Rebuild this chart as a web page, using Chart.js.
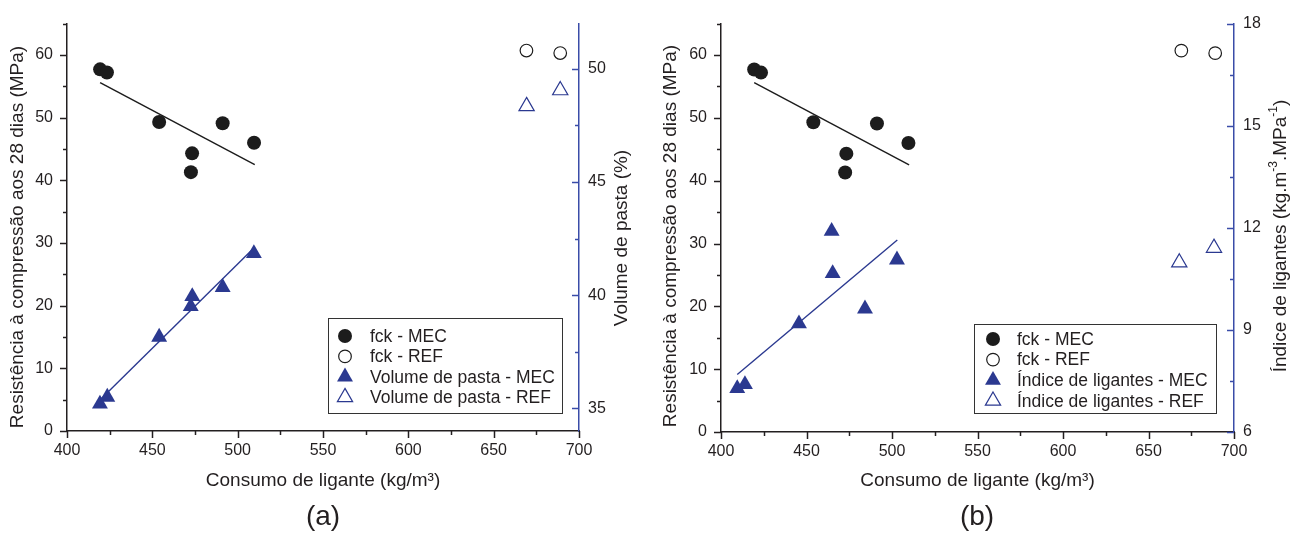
<!DOCTYPE html>
<html>
<head>
<meta charset="utf-8">
<title>Consumo de ligante</title>
<script src="https://cdn.jsdelivr.net/npm/chart.js@4.4.0/dist/chart.umd.min.js"></script>
<style>
  html, body { margin: 0; padding: 0; background: #fff; }
  #wrap { position: relative; width: 1290px; height: 536px; overflow: hidden; }
  canvas { position: absolute; top: 0; }
  #chartA { left: 0; }
  #chartB { left: 645px; }
</style>
</head>
<body>
<div id="wrap">
  <canvas id="chartA" width="645" height="536"></canvas>
  <canvas id="chartB" width="645" height="536"></canvas>
</div>
<script>
// fck (MPa) against binder content, same points in both panels
const fckMecX = [419.4, 423.4, 454, 473.3, 472.6, 491.2, 509.6];
const fckMecY = [57.7, 57.2, 49.3, 44.3, 41.3, 49.1, 46.0];
const fckRefX = [669.2, 689];
const fckRefY = [60.7, 60.3];
const fckTrendX = [419.4, 510];
const fckTrendY = [55.6, 42.5];

// (a) paste volume (%)
const volMecX = [419.3, 423.6, 454, 472.5, 473.4, 491.2, 509.5];
const volMecY = [35.2, 35.5, 38.15, 39.5, 39.95, 40.35, 41.85];
const volRefX = [669.3, 689];
const volRefY = [48.35, 49.05];
const volTrendX = [419.3, 509.5];
const volTrendY = [35.37, 42.09];

// (b) binder index (kg.m-3.MPa-1)
const indMecX = [409.5, 414, 445.6, 464.7, 465.3, 484.2, 502.9];
const indMecY = [7.28, 7.4, 9.18, 11.9, 10.66, 9.62, 11.06];
const indRefX = [668, 688.3];
const indRefY = [10.98, 11.41];
const indTrendX = [409.5, 503.1];
const indTrendY = [7.69, 11.64];

// tick values (labels only on the multiples given)
const xTicks = [400, 425, 450, 475, 500, 525, 550, 575, 600, 625, 650, 675, 700];
const fckTicks = [0, 5, 10, 15, 20, 25, 30, 35, 40, 45, 50, 55, 60, 65];
const volTicks = [35, 37.5, 40, 42.5, 45, 47.5, 50];
const indTicks = [6, 7.5, 9, 10.5, 12, 13.5, 15, 16.5, 18];

const FONT = "'Liberation Sans', Arial, sans-serif";
const TEXT = '#231f20';
const AXIS = '#231f20';
const BLUE = '#2b3990';
const BLUE_AXIS = '#3a4ca8';
const W = 645, H = 536;

Chart.defaults.font.family = FONT;
Chart.defaults.color = TEXT;

function pts(xs, ys) {
    return xs.map((x, i) => ({ x: x, y: ys[i] }));
}

function tickList(values) {
    return s => { s.ticks = values.map(v => ({ value: v })); };
}

// minor/major tick marks, lengths differ so drawn by hand
const tickMarks = {
    id: 'tickMarks',
    afterDraw(chart) {
        const ctx = chart.ctx;
        Object.values(chart.scales).forEach(scale => {
            ctx.save();
            ctx.strokeStyle = scale.options.border.color;
            ctx.lineWidth = 1.5;
            scale.ticks.forEach(t => {
                const len = t.label !== '' ? 7 : 4;
                const p = Math.round(scale.getPixelForValue(t.value)) + 0.5;
                ctx.beginPath();
                if (scale.isHorizontal()) {
                    ctx.moveTo(p, scale.top);
                    ctx.lineTo(p, scale.top + len);
                } else if (scale.position === 'left') {
                    ctx.moveTo(scale.right, p);
                    ctx.lineTo(scale.right - len, p);
                } else {
                    ctx.moveTo(scale.left, p);
                    ctx.lineTo(scale.left - len, p);
                }
                ctx.stroke();
            });
            ctx.restore();
        });
    }
};

function drawMarker(ctx, ds, x, y) {
    const r = ds.pointRadius;
    ctx.beginPath();
    if (ds.pointStyle === 'triangle') {
        let a = 0;
        ctx.moveTo(x + Math.sin(a) * r, y - Math.cos(a) * r);
        a += 2 * Math.PI / 3;
        ctx.lineTo(x + Math.sin(a) * r, y - Math.cos(a) * r);
        a += 2 * Math.PI / 3;
        ctx.lineTo(x + Math.sin(a) * r, y - Math.cos(a) * r);
        ctx.closePath();
    } else {
        ctx.arc(x, y, r, 0, Math.PI * 2);
    }
    ctx.fillStyle = ds.pointBackgroundColor;
    ctx.fill();
    if (ds.pointBorderWidth > 0) {
        ctx.strokeStyle = ds.pointBorderColor;
        ctx.lineWidth = ds.pointBorderWidth;
        ctx.stroke();
    }
}

function drawRotated(ctx, parts, cx, cy) {
    const big = '19px ' + FONT;
    const small = '12px ' + FONT;
    ctx.save();
    ctx.translate(cx, cy);
    ctx.rotate(-Math.PI / 2);
    ctx.textBaseline = 'middle';
    ctx.textAlign = 'left';
    ctx.fillStyle = TEXT;
    let total = 0;
    parts.forEach(p => {
        ctx.font = p.sup ? small : big;
        p.w = ctx.measureText(p.text).width;
        total += p.w;
    });
    let x = -total / 2;
    parts.forEach(p => {
        ctx.font = p.sup ? small : big;
        ctx.fillText(p.text, x, p.sup ? -7 : 0);
        x += p.w;
    });
    ctx.restore();
}

function panelText(setup) {
    return {
        id: 'panelText',
        afterDraw(chart) {
            const ctx = chart.ctx;
            drawRotated(ctx, [{ text: 'Resistência à compressão aos 28 dias (MPa)' }], setup.leftTitle.x, setup.leftTitle.y);
            drawRotated(ctx, setup.rightTitle.parts, setup.rightTitle.x, setup.rightTitle.y);

            ctx.save();
            ctx.fillStyle = TEXT;
            ctx.font = '28px ' + FONT;
            ctx.textAlign = 'center';
            ctx.textBaseline = 'middle';
            ctx.fillText(setup.letter.text, setup.letter.x, setup.letter.y);

            // legend box
            const lg = setup.legend;
            ctx.strokeStyle = '#333';
            ctx.lineWidth = 1;
            ctx.strokeRect(lg.x + 0.5, lg.y + 0.5, lg.w, lg.h);
            const items = chart.data.datasets.filter(ds => ds.label);
            items.forEach((ds, i) => {
                const y = lg.y + lg.first + i * lg.step;
                drawMarker(ctx, ds, lg.markerX, y);
                ctx.fillStyle = TEXT;
                ctx.font = '17.5px ' + FONT;
                ctx.textAlign = 'left';
                ctx.textBaseline = 'middle';
                ctx.fillText(ds.label, lg.textX, y + 1);
            });
            ctx.restore();
        }
    };
}

function makeChart(setup) {
    const area = setup.area;
    const ctx = document.getElementById(setup.canvas).getContext('2d');
    const tickFont = { family: FONT, size: 16 };

    return new Chart(ctx, {
        type: 'scatter',
        data: {
            datasets: [
                {
                    label: 'fck - MEC',
                    data: pts(fckMecX, fckMecY),
                    pointStyle: 'circle', pointRadius: 7,
                    pointBackgroundColor: '#1c1c1c', pointBorderColor: '#1c1c1c', pointBorderWidth: 0,
                    yAxisID: 'y'
                },
                {
                    label: 'fck - REF',
                    data: pts(fckRefX, fckRefY),
                    pointStyle: 'circle', pointRadius: 6.3,
                    pointBackgroundColor: 'rgba(0,0,0,0)', pointBorderColor: '#1c1c1c', pointBorderWidth: 1.2,
                    yAxisID: 'y'
                },
                {
                    label: setup.mec.label,
                    data: pts(setup.mec.x, setup.mec.y),
                    pointStyle: 'triangle', pointRadius: 9.2,
                    pointBackgroundColor: BLUE, pointBorderColor: BLUE, pointBorderWidth: 0,
                    yAxisID: 'y2'
                },
                {
                    label: setup.ref.label,
                    data: pts(setup.ref.x, setup.ref.y),
                    pointStyle: 'triangle', pointRadius: 8.8,
                    pointBackgroundColor: 'rgba(0,0,0,0)', pointBorderColor: BLUE, pointBorderWidth: 1.2,
                    yAxisID: 'y2'
                },
                {
                    data: pts(fckTrendX, fckTrendY),
                    showLine: true, pointRadius: 0,
                    borderColor: '#1c1c1c', borderWidth: 1.4,
                    yAxisID: 'y'
                },
                {
                    data: pts(setup.trend.x, setup.trend.y),
                    showLine: true, pointRadius: 0,
                    borderColor: BLUE, borderWidth: 1.4,
                    yAxisID: 'y2'
                }
            ]
        },
        options: {
            responsive: false,
            animation: false,
            devicePixelRatio: 1,
            layout: { padding: { top: area.top, left: 0, right: 0, bottom: 0 } },
            plugins: {
                legend: { display: false },
                tooltip: { enabled: false }
            },
            scales: {
                x: {
                    type: 'linear', position: 'bottom',
                    min: 400, max: 700,
                    afterBuildTicks: tickList(xTicks),
                    afterFit: s => { s.height = H - area.bottom; },
                    ticks: {
                        autoSkip: false, maxRotation: 0, padding: 10,
                        color: TEXT, font: tickFont,
                        callback: v => (v % 50 === 0 ? v : '')
                    },
                    grid: { display: false, drawTicks: false },
                    border: { display: true, color: AXIS, width: 1.5 },
                    title: {
                        display: true, text: 'Consumo de ligante (kg/m³)', color: TEXT,
                        font: { family: FONT, size: 19, lineHeight: 1.2 },
                        padding: { top: 0, bottom: 44 }
                    }
                },
                y: {
                    type: 'linear', position: 'left',
                    min: 0, max: 65,
                    afterBuildTicks: tickList(fckTicks),
                    afterFit: s => { s.width = area.left; },
                    ticks: {
                        autoSkip: false, padding: 14,
                        color: TEXT, font: tickFont,
                        callback: v => (v % 10 === 0 ? v : '')
                    },
                    grid: { display: false, drawTicks: false },
                    border: { display: true, color: AXIS, width: 1.5 }
                },
                y2: {
                    type: 'linear', position: 'right',
                    min: setup.right.min, max: setup.right.max,
                    afterBuildTicks: tickList(setup.right.ticks),
                    afterFit: s => { s.width = W - area.right; },
                    ticks: {
                        autoSkip: false, padding: 9,
                        color: TEXT, font: tickFont,
                        callback: v => (v % setup.right.every === 0 ? v : '')
                    },
                    grid: { display: false, drawTicks: false },
                    border: { display: true, color: BLUE_AXIS, width: 1.5 }
                }
            }
        },
        plugins: [tickMarks, panelText(setup)]
    });
}

makeChart({
    canvas: 'chartA',
    area: { left: 67, right: 579, top: 19, bottom: 431 },
    right: { min: 34, max: 52, ticks: volTicks, every: 5 },
    mec: { x: volMecX, y: volMecY, label: 'Volume de pasta - MEC' },
    ref: { x: volRefX, y: volRefY, label: 'Volume de pasta - REF' },
    trend: { x: volTrendX, y: volTrendY },
    leftTitle: { x: 18, y: 237 },
    rightTitle: { x: 622, y: 238, parts: [{ text: 'Volume de pasta (%)' }] },
    letter: { text: '(a)', x: 323, y: 517 },
    legend: { x: 328, y: 318, w: 234, h: 95, first: 18, step: 20.4, markerX: 345, textX: 370 }
});

makeChart({
    canvas: 'chartB',
    area: { left: 76, right: 589, top: 14, bottom: 432 },
    right: { min: 6, max: 18, ticks: indTicks, every: 3 },
    mec: { x: indMecX, y: indMecY, label: 'Índice de ligantes - MEC' },
    ref: { x: indRefX, y: indRefY, label: 'Índice de ligantes - REF' },
    trend: { x: indTrendX, y: indTrendY },
    leftTitle: { x: 26, y: 236 },
    rightTitle: {
        x: 636, y: 236,
        parts: [
            { text: 'Índice de ligantes (kg.m' },
            { text: '-3', sup: true },
            { text: '.MPa' },
            { text: '-1', sup: true },
            { text: ')' }
        ]
    },
    letter: { text: '(b)', x: 332, y: 517 },
    legend: { x: 329, y: 324, w: 242, h: 89, first: 15, step: 20.6, markerX: 348, textX: 372 }
});
</script>
</body>
</html>
